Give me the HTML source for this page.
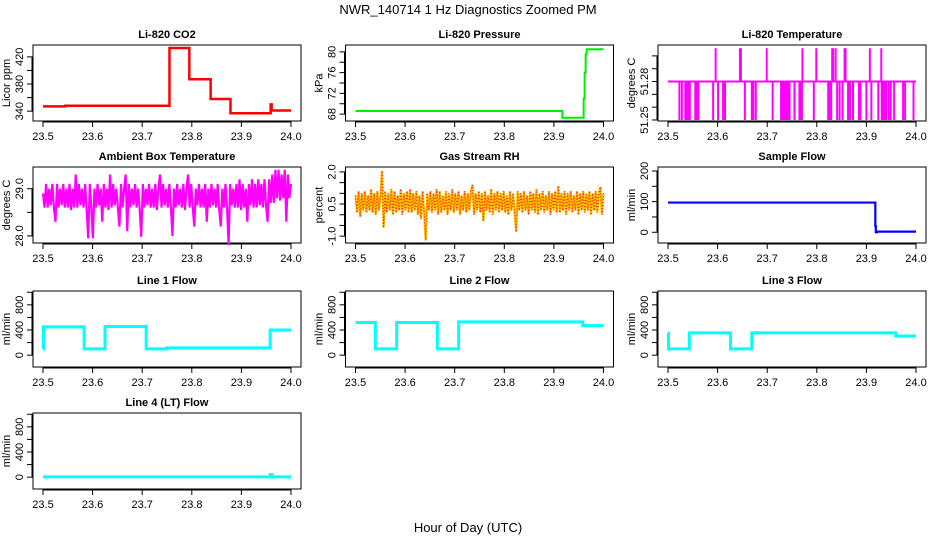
<!DOCTYPE html>
<html><head><meta charset="utf-8"><style>
html,body{margin:0;padding:0;background:#fff;}
svg text{font-family:"Liberation Sans",Arial,sans-serif;fill:#000;}
</style></head><body>
<svg id="c" width="936" height="540" xmlns="http://www.w3.org/2000/svg">
<rect x="0" y="0" width="936" height="540" fill="#fff"/>
<text x="468" y="14" font-size="13" text-anchor="middle">NWR_140714  1 Hz Diagnostics Zoomed PM</text>
<text x="468" y="532" font-size="13" text-anchor="middle">Hour of Day (UTC)</text>
</svg>
<script>
// ---- data ----
var xTicks = [23.5, 23.6, 23.7, 23.8, 23.9, 24.0];
var xTickLabels = ["23.5", "23.6", "23.7", "23.8", "23.9", "24.0"];

var co2Times  = [23.5, 23.545, 23.755, 23.795, 23.838, 23.878, 23.958, 23.959, 23.961, 24.0];
var co2Values = [347,  348,    433,    387,    358,    337,    337,    350,    341,    341];

var presTimes  = [23.5, 23.917, 23.958, 23.960, 23.962, 23.964, 23.966, 24.0];
var presValues = [68.6, 67.3,   67.3,   71.0,   76.0,   79.5,   80.5,   80.5];

var tempBase = 51.28;
var tempUp = 51.306;
var tempDown = 51.25;
var tempUpTimes = [23.596, 23.645, 23.647, 23.699, 23.771, 23.799, 23.831, 23.833, 23.838, 23.856, 23.858, 23.907, 23.930];
var tempDownTimes = [23.523, 23.528, 23.535, 23.538, 23.541, 23.544, 23.555, 23.558, 23.561, 23.591, 23.601, 23.611, 23.613, 23.615, 23.655, 23.669, 23.672, 23.677, 23.711, 23.728, 23.731, 23.734, 23.738, 23.741, 23.745, 23.755, 23.765, 23.768, 23.770, 23.794, 23.823, 23.826, 23.829, 23.841, 23.846, 23.852, 23.863, 23.867, 23.873, 23.885, 23.888, 23.900, 23.910, 23.924, 23.931, 23.934, 23.937, 23.940, 23.945, 23.949, 23.956, 23.974, 23.978, 23.995];

var ambValues = [28.9,28.6,29.1,28.6,29.0,28.65,29.1,28.6,28.3,29.1,
28.6,29.0,28.65,29.1,28.6,29.0,28.6,29.1,28.55,29.0,
28.6,29.3,28.6,29.1,28.65,29.0,28.6,29.1,28.55,27.95,
29.1,28.6,27.95,29.0,28.6,29.1,28.65,29.0,28.3,29.1,
28.6,29.0,28.55,29.3,28.6,29.1,28.65,29.0,28.6,28.2,
29.1,28.6,29.0,29.3,28.1,29.1,28.6,29.0,28.65,29.1,
28.6,29.0,28.55,27.98,29.1,28.6,29.0,28.65,29.1,28.6,
29.0,28.6,29.1,28.55,29.0,29.3,28.6,29.1,28.65,29.0,
28.6,29.1,28.6,28.0,29.0,28.6,29.1,28.65,29.0,28.6,
29.1,28.55,29.0,29.3,28.6,29.1,28.6,28.2,29.0,28.65,
29.1,28.6,29.0,28.6,29.1,28.3,29.0,28.6,29.1,28.65,
29.0,28.6,29.1,28.55,28.2,29.0,28.6,29.1,28.6,27.8,
29.1,28.65,29.0,28.6,29.1,28.6,29.2,28.55,29.1,28.6,
29.0,28.3,29.1,28.65,29.2,28.6,29.1,28.6,29.2,28.65,
29.1,28.6,29.2,28.65,28.3,29.2,28.7,29.3,28.7,29.4,
28.8,29.4,28.75,29.3,28.8,29.4,28.3,29.3,28.8,29.1];

var rhValues = [0.9,0.1,1.1,-0.1,1.0,0.2,1.1,0.1,0.9,0.2,
1.2,0.1,1.0,0.0,1.1,0.2,0.9,2.05,-0.6,1.1,
0.1,1.0,0.2,1.2,0.0,1.1,0.1,0.9,0.2,1.2,
0.0,1.0,0.2,1.1,0.1,1.2,0.1,1.0,0.2,1.1,
0.0,0.9,-0.2,1.1,0.1,-1.2,1.0,0.2,1.1,0.1,
1.0,0.2,1.2,0.0,1.1,0.1,0.9,0.2,1.1,0.0,
1.0,0.2,1.2,0.1,1.0,0.2,1.1,0.0,0.9,0.2,
1.1,0.1,1.0,0.2,1.1,1.4,0.0,1.0,0.2,1.1,
0.1,1.0,-0.3,1.1,0.2,0.9,0.1,1.2,0.0,1.0,
0.2,1.1,0.1,1.0,0.2,1.1,0.1,0.9,0.0,1.1,
0.2,1.0,0.1,-0.8,1.1,0.2,1.0,0.1,1.1,0.2,
0.9,0.0,1.1,0.2,1.0,0.1,1.2,0.0,1.0,0.2,
1.1,0.1,0.9,0.2,1.1,0.0,1.0,0.2,1.1,0.1,
1.35,0.1,1.0,0.2,1.1,0.0,1.0,0.2,1.1,0.1,
0.9,0.2,1.1,0.0,1.0,0.2,1.1,0.1,1.0,0.2,
1.1,0.0,1.0,0.2,1.1,0.1,1.0,1.3,0.0,1.0];

var sampleTimes  = [23.5, 23.917, 23.918, 23.919, 23.921, 24.0];
var sampleValues = [97,   97,     20,     0,      2,      2];

var line1Times  = [23.5, 23.501, 23.583, 23.625, 23.708, 23.75, 23.958, 24.0];
var line1Values = [100,  450,    100,    455,    100,    115,   400,    400];

var line2Times  = [23.5, 23.54, 23.583, 23.665, 23.708, 23.958, 24.0];
var line2Values = [520,  100,   520,    100,    530,    470,    470];

var line3Times  = [23.5, 23.501, 23.543, 23.626, 23.669, 23.959, 24.0];
var line3Values = [350,  100,    355,    100,    355,    305,    305];

var line4Times  = [23.5, 23.957, 23.958, 23.961, 24.0];
var line4Values = [5,    5,      40,     5,      5];

// ---- layout ----
var svg = document.getElementById('c');
var NS = 'http://www.w3.org/2000/svg';
var colOffset = 312.5, rowTops = [45, 167, 291, 413], boxH = 76;

function mk(tag, attrs, parent) {
  var e = document.createElementNS(NS, tag);
  for (var k in attrs) e.setAttribute(k, attrs[k]);
  (parent || svg).appendChild(e);
  return e;
}

function makePanel(col, row, title, slug, ylab, ylim, yTicks, yLabels, showXLabels) {
  var g = mk('g', {});
  
  
  var bx = 33 + col * colOffset, by = rowTops[row], bw = 268;
  var pl = bx + 10, pw = 248;
  var p = {
    g: g,
    x: function (t) { return pl + (t - 23.5) / 0.5 * pw; },
    y: function (v) { return by + (ylim[1] - v) / (ylim[1] - ylim[0]) * boxH; }
  };
  var t = mk('text', {x: bx + bw / 2, y: by - 7, 'font-size': 11, 'font-weight': 'bold', 'text-anchor': 'middle'}, g);
  t.textContent = title;
  
  
  var box = mk('rect', {x: bx, y: by, width: bw, height: boxH, fill: 'none', stroke: '#000', 'stroke-width': 1}, g);
  
  
  // x axis
  var xa = mk('g', {}, g);
  
  
  mk('line', {x1: p.x(xTicks[0]), x2: p.x(xTicks[xTicks.length - 1]), y1: by + boxH + 1, y2: by + boxH + 1, stroke: '#000'}, xa);
  xTicks.forEach(function (v, i) {
    var xx = p.x(v);
    mk('line', {x1: xx, x2: xx, y1: by + boxH, y2: by + boxH + 6, stroke: '#000'}, xa);
    if (showXLabels) {
      var l = mk('text', {x: xx, y: by + boxH + 19, 'font-size': 11, 'text-anchor': 'middle'}, xa);
      l.textContent = xTickLabels[i];
      
      
    }
  });
  // y axis
  var ya = mk('g', {}, g);
  
  
  mk('line', {x1: bx - 1, x2: bx - 1, y1: p.y(yTicks[0]), y2: p.y(yTicks[yTicks.length - 1]), stroke: '#000'}, ya);
  yTicks.forEach(function (v) {
    var yy = p.y(v);
    mk('line', {x1: bx - 6, x2: bx, y1: yy, y2: yy, stroke: '#000'}, ya);
  });
  yLabels.forEach(function (lab) {
    var yy = p.y(parseFloat(lab));
    var l = mk('text', {x: 0, y: 0, 'font-size': 11, 'text-anchor': 'middle', transform: 'translate(' + (bx - 10) + ',' + yy + ') rotate(-90)'}, ya);
    l.textContent = lab;
    
    
  });
  var yt = mk('text', {x: 0, y: 0, 'font-size': 11, 'text-anchor': 'middle', transform: 'translate(' + (bx - 23) + ',' + (by + boxH / 2) + ') rotate(-90)'}, g);
  yt.textContent = ylab;
  
  
  return p;
}

function stepPath(p, times, vals) {
  var d = 'M' + p.x(times[0]) + ',' + p.y(vals[0]);
  for (var i = 1; i < times.length; i++) {
    d += 'L' + p.x(times[i]) + ',' + p.y(vals[i - 1]) + 'L' + p.x(times[i]) + ',' + p.y(vals[i]);
  }
  return d;
}
function drawStep(p, times, vals, color, w, name) {
  var e = mk('path', {d: stepPath(p, times, vals), fill: 'none', stroke: color, 'stroke-width': w}, p.g);
  
  
}
function drawSeries(p, vals, color, w, name, dash) {
  var n = vals.length, pts = [];
  for (var i = 0; i < n; i++) pts.push(p.x(23.5 + i * 0.5 / (n - 1)) + ',' + p.y(vals[i]));
  var a = {points: pts.join(' '), fill: 'none', stroke: color, 'stroke-width': w};
  if (dash) a['stroke-dasharray'] = dash;
  var e = mk('polyline', a, p.g);
  
  
}

// Panels
var pCO2 = makePanel(0, 0, 'Li-820 CO2', 'co2', 'Licor ppm', [325.5, 437.5], [340, 360, 380, 400, 420], ['340', '380', '420'], true);
drawStep(pCO2, co2Times, co2Values, '#ff0000', 2.5, 'co2-line');

var pPres = makePanel(1, 0, 'Li-820 Pressure', 'pressure', 'kPa', [66.67, 81.33], [68, 70, 72, 74, 76, 78, 80], ['68', '72', '76', '80'], true);
drawStep(pPres, presTimes, presValues, '#00ee00', 2, 'pressure-line');

var pTemp = makePanel(2, 0, 'Li-820 Temperature', 'li820-temp', 'degrees C', [51.2492, 51.3085], [51.25, 51.26, 51.27, 51.28, 51.29, 51.30], ['51.25', '51.28'], true);
(function () {
  var base = mk('line', {x1: pTemp.x(23.5), x2: pTemp.x(24.0), y1: pTemp.y(tempBase), y2: pTemp.y(tempBase), stroke: '#ff00ff', 'stroke-width': 2}, pTemp.g);
  
  
  tempUpTimes.forEach(function (t) {
    var s = mk('line', {x1: pTemp.x(t), x2: pTemp.x(t), y1: pTemp.y(tempBase), y2: pTemp.y(tempUp), stroke: '#ff00ff', 'stroke-width': 2}, pTemp.g);
    
    
  });
  tempDownTimes.forEach(function (t) {
    var s = mk('line', {x1: pTemp.x(t), x2: pTemp.x(t), y1: pTemp.y(tempBase), y2: pTemp.y(tempDown), stroke: '#ff00ff', 'stroke-width': 2}, pTemp.g);
    
    
  });
})();

var pAmb = makePanel(0, 1, 'Ambient Box Temperature', 'ambient-temp', 'degrees C', [27.85, 29.46], [28.0, 28.5, 29.0], ['28.0', '29.0'], true);
drawSeries(pAmb, ambValues, '#ff00ff', 2.2, 'ambient-temp-line');

var pRH = makePanel(1, 1, 'Gas Stream RH', 'rh', 'percent', [-1.32, 2.23], [-1.0, -0.5, 0.0, 0.5, 1.0, 1.5, 2.0], ['-1.0', '0.5', '2.0'], true);
drawSeries(pRH, rhValues, '#ffc000', 2.2, 'rh-line');
drawSeries(pRH, rhValues, '#ff2000', 1.2, 'rh-points', '1,2');

var pSample = makePanel(2, 1, 'Sample Flow', 'sample-flow', 'ml/min', [-35, 213], [0, 50, 100, 150, 200], ['0', '100', '200'], true);
drawStep(pSample, sampleTimes, sampleValues, '#0000ff', 2.2, 'sample-flow-line');

var flowTicks = [0, 200, 400, 600, 800, 1000], flowLabels = ['0', '400', '800'];
var pL1 = makePanel(0, 2, 'Line 1 Flow', 'line1-flow', 'ml/min', [-188, 1020], flowTicks, flowLabels, true);
drawStep(pL1, line1Times, line1Values, '#00ffff', 3, 'line1-flow-line');
var pL2 = makePanel(1, 2, 'Line 2 Flow', 'line2-flow', 'ml/min', [-188, 1020], flowTicks, flowLabels, true);
drawStep(pL2, line2Times, line2Values, '#00ffff', 3, 'line2-flow-line');
var pL3 = makePanel(2, 2, 'Line 3 Flow', 'line3-flow', 'ml/min', [-188, 1020], flowTicks, flowLabels, true);
drawStep(pL3, line3Times, line3Values, '#00ffff', 3, 'line3-flow-line');
var pL4 = makePanel(0, 3, 'Line 4 (LT) Flow', 'line4-flow', 'ml/min', [-188, 1020], flowTicks, flowLabels, true);
drawStep(pL4, line4Times, line4Values, '#00ffff', 3, 'line4-flow-line');
</script>
</body></html>
